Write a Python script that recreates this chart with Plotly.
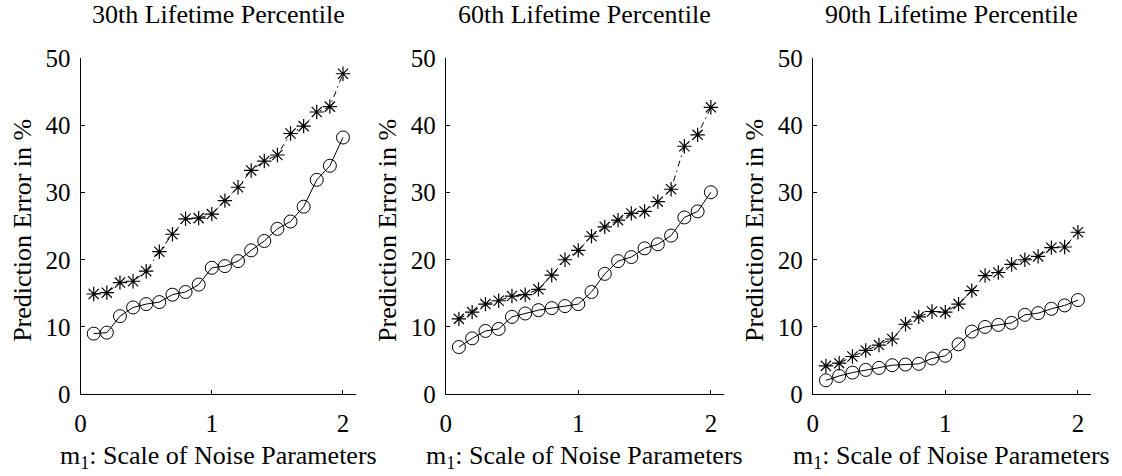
import plotly.graph_objects as go

# Noise scale m1 (shared x values for all three panels)
m1 = [0.1, 0.2, 0.3, 0.4, 0.5, 0.6, 0.7, 0.8, 0.9, 1.0,
      1.1, 1.2, 1.3, 1.4, 1.5, 1.6, 1.7, 1.8, 1.9, 2.0]

# Prediction error (%) per lifetime percentile: asterisk series and circle series
p30_star = [14.9, 15.1, 16.6, 16.8, 18.3, 21.2, 23.8, 26.1, 26.2, 26.8,
            28.8, 30.8, 33.3, 34.7, 35.6, 38.8, 39.9, 42.0, 42.8, 47.7]
p30_circ = [9.0, 9.15, 11.6, 12.9, 13.4, 13.7, 14.8, 15.2, 16.3, 18.8,
            19.05, 19.8, 21.4, 22.8, 24.6, 25.7, 27.9, 31.9, 34.0, 38.2]

p60_star = [11.2, 12.2, 13.4, 13.9, 14.6, 14.8, 15.6, 17.7, 20.0, 21.4,
            23.5, 24.9, 25.9, 26.9, 27.2, 28.65, 30.5, 36.9, 38.6, 42.7]
p60_circ = [7.0, 8.3, 9.4, 9.7, 11.5, 12.0, 12.5, 12.8, 13.1, 13.4,
            15.2, 17.9, 19.8, 20.4, 21.7, 22.3, 23.6, 26.3, 27.2, 30.05]

p90_star = [4.2, 4.6, 5.6, 6.5, 7.3, 8.2, 10.4, 11.5, 12.3, 12.2,
            13.4, 15.4, 17.65, 18.1, 19.3, 20.0, 20.5, 21.8, 21.9, 24.1]
p90_circ = [2.05, 2.7, 3.2, 3.6, 3.9, 4.3, 4.4, 4.5, 5.3, 5.7,
            7.4, 9.3, 10.0, 10.3, 10.6, 11.8, 12.05, 12.7, 13.2, 14.0]

titles = ["30th Lifetime Percentile", "60th Lifetime Percentile", "90th Lifetime Percentile"]
x_ticks = [0, 1, 2]
y_ticks = [0, 10, 20, 30, 40, 50]

W, H = 1122, 476
FONT = "Liberation Serif"

# panel placement in pixels (left, right), shared top/bottom
panels_px = [(75, 352), (442, 722), (811, 1091)]
top_px, bottom_px = 48, 404

fig = go.Figure()
series = [(p30_star, p30_circ), (p60_star, p60_circ), (p90_star, p90_circ)]

for i, ((stars, circs), (l, r)) in enumerate(zip(series, panels_px)):
    n = "" if i == 0 else str(i + 1)
    xa, ya = "x" + n, "y" + n
    fig.add_trace(go.Scatter(
        x=m1, y=stars, xaxis=xa, yaxis=ya, mode="lines+markers",
        line=dict(color="black", width=1, dash="6px,4px,1.5px,4px"),
        marker=dict(symbol="asterisk-open", size=12, color="black",
                    line=dict(color="black", width=1.2)),
        showlegend=False))
    fig.add_trace(go.Scatter(
        x=m1, y=circs, xaxis=xa, yaxis=ya, mode="lines+markers",
        line=dict(color="black", width=1),
        marker=dict(symbol="circle-open", size=13, color="black",
                    line=dict(color="black", width=1)),
        showlegend=False))

    axis_common = dict(showline=True, linecolor="black", linewidth=1,
                       ticks="inside", ticklen=4, tickcolor="black",
                       showgrid=False, zeroline=False,
                       tickfont=dict(family=FONT, size=25, color="black"))
    fig.layout["xaxis" + n] = dict(
        domain=[l / W, r / W], range=[0, 2.1], anchor=ya, ticklabelstandoff=7,
        tickvals=x_ticks, ticktext=[str(t) for t in x_ticks], **axis_common)
    fig.layout["yaxis" + n] = dict(
        domain=[1 - bottom_px / H, 1 - top_px / H], range=[0, 50], anchor=xa,
        ticklabelstandoff=4,
        tickvals=y_ticks, ticktext=[str(t) for t in y_ticks], **axis_common)

    cx = (l + r) / 2
    # panel title
    fig.add_annotation(x=cx / W, y=1, xref="paper", yref="paper",
                       xanchor="center", yanchor="top", showarrow=False,
                       borderpad=0, yshift=14,
                       text=titles[i], font=dict(family=FONT, size=26, color="black"))
    # x-axis title
    fig.add_annotation(x=cx / W, y=0, xref="paper", yref="paper",
                       xanchor="center", yanchor="bottom", showarrow=False,
                       borderpad=0, yshift=-12,
                       text="m<sub>1</sub>: Scale of Noise Parameters",
                       font=dict(family=FONT, size=26, color="black"))
    # y-axis title
    fig.add_annotation(x=(l - 58) / W, y=1 - 230 / H, xref="paper", yref="paper",
                       xanchor="center", yanchor="middle", showarrow=False,
                       textangle=-90, text="Prediction Error in %",
                       font=dict(family=FONT, size=26, color="black"))

fig.update_layout(width=W, height=H, margin=dict(l=0, r=0, t=0, b=0),
                  paper_bgcolor="white", plot_bgcolor="white")

fig.write_html("out.html")
